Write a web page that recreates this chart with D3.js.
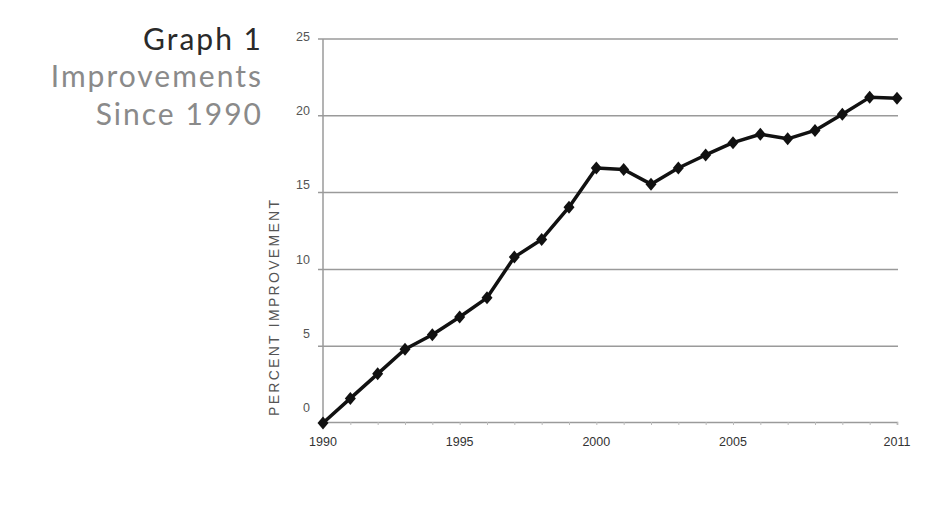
<!DOCTYPE html>
<html>
<head>
<meta charset="utf-8">
<script src="https://cdn.jsdelivr.net/npm/d3@7"></script>
<style>
  body { margin: 0; background: #fff; }
  svg { display: block; }
</style>
</head>
<body>
<div class="main-container"></div>
<script>
// data
var years = [1990, 1991, 1992, 1993, 1994, 1995, 1996, 1997, 1998, 1999, 2000,
             2001, 2002, 2003, 2004, 2005, 2006, 2007, 2008, 2009, 2010, 2011];
var improvement = [0, 1.6, 3.2, 4.8, 5.75, 6.9, 8.15, 10.8, 11.95, 14.05, 16.6,
                   16.5, 15.55, 16.6, 17.45, 18.25, 18.8, 18.5, 19.05, 20.1, 21.2, 21.15];
var yTicks = [0, 5, 10, 15, 20, 25];
var xTickLabels = [1990, 1995, 2000, 2005, 2011];
var titleLines = ["Graph 1", "Improvements", "Since 1990"];

var width = 948, height = 517;
var plotLeft = 323, plotRight = 897, plotTop = 39, plotBottom = 423;

var svg = d3.select(".main-container")
    .append("svg")
    .attr("width", width)
    .attr("height", height);

var x = d3.scaleLinear().domain([1990, 2011]).range([plotLeft, plotRight]);
var y = d3.scaleLinear().domain([0, 25]).range([plotBottom, plotTop]);
// tick labels in the original sit a little above their lines, more so near the bottom
var yLab = d3.scaleLinear().domain([0, 25]).range([412, 41]);

// title block
svg.selectAll("text.title")
    .data(titleLines)
    .enter()
    .append("text")
    .attr("class", "title")
    .attr("x", 263)
    .attr("y", function (d, i) { return [50, 87, 125][i]; })
    .attr("text-anchor", "end")
    .style("font-family", "Lato, 'Noto Sans', sans-serif")
    .style("font-size", "30px")
    .style("letter-spacing", "2px")
    .style("fill", function (d, i) { return i === 0 ? "#2a2a2a" : "#8a8a8a"; })
    .text(function (d) { return d; });

// horizontal grid lines
svg.selectAll("line.grid")
    .data(yTicks.filter(function (d) { return d > 0; }))
    .enter()
    .append("line")
    .attr("class", "grid")
    .attr("x1", plotLeft - 5)
    .attr("x2", plotRight + 1)
    .attr("y1", function (d) { return y(d); })
    .attr("y2", function (d) { return y(d); })
    .style("stroke", "#9a9a9a")
    .style("stroke-width", 1.5);

// y axis line
svg.append("line")
    .attr("x1", plotLeft).attr("x2", plotLeft)
    .attr("y1", y(25)).attr("y2", y(0))
    .style("stroke", "#9a9a9a")
    .style("stroke-width", 1.5);

// x axis with small year ticks
var xAxis = d3.axisBottom(x)
    .tickValues(years)
    .tickSize(3)
    .tickFormat("");
var gx = svg.append("g")
    .attr("transform", "translate(0," + (plotBottom - 1) + ")")
    .call(xAxis);
gx.select(".domain").style("stroke", "#9a9a9a").style("stroke-width", 1.5);
gx.selectAll(".tick line").style("stroke", "#bbb");

// x labels
svg.selectAll("text.xlab")
    .data(xTickLabels)
    .enter()
    .append("text")
    .attr("class", "xlab")
    .attr("x", function (d) { return x(d); })
    .attr("y", 446)
    .attr("text-anchor", "middle")
    .style("font-family", "'Liberation Sans Narrow', 'Liberation Sans', Arial, sans-serif")
    .style("font-size", "12.5px")
    .style("fill", "#333")
    .text(function (d) { return d; });

// y labels
svg.selectAll("text.ylab")
    .data(yTicks)
    .enter()
    .append("text")
    .attr("class", "ylab")
    .attr("x", 310)
    .attr("y", function (d) { return yLab(d); })
    .attr("text-anchor", "end")
    .style("font-family", "'Liberation Sans Narrow', 'Liberation Sans', Arial, sans-serif")
    .style("font-size", "12.5px")
    .style("fill", "#555")
    .text(function (d) { return d; });

// y axis title
svg.append("text")
    .attr("transform", "translate(279,308) rotate(-90)")
    .attr("text-anchor", "middle")
    .attr("textLength", 216)
    .attr("lengthAdjust", "spacing")
    .style("font-family", "'Liberation Sans', Arial, sans-serif")
    .style("font-size", "14px")
    .style("fill", "#555")
    .text("PERCENT IMPROVEMENT");

// the line
var line = d3.line()
    .x(function (d, i) { return x(years[i]); })
    .y(function (d) { return y(d); });

svg.append("path")
    .datum(improvement)
    .attr("d", line)
    .style("fill", "none")
    .style("stroke", "#111")
    .style("stroke-width", 3.5)
    .style("stroke-linejoin", "round");

// diamond markers
svg.selectAll("path.marker")
    .data(improvement)
    .enter()
    .append("path")
    .attr("class", "marker")
    .attr("transform", function (d, i) { return "translate(" + x(years[i]) + "," + y(d) + ")"; })
    .attr("d", "M0,-6.5L5.5,0L0,6.5L-5.5,0Z")
    .style("fill", "#111");
</script>
</body>
</html>
